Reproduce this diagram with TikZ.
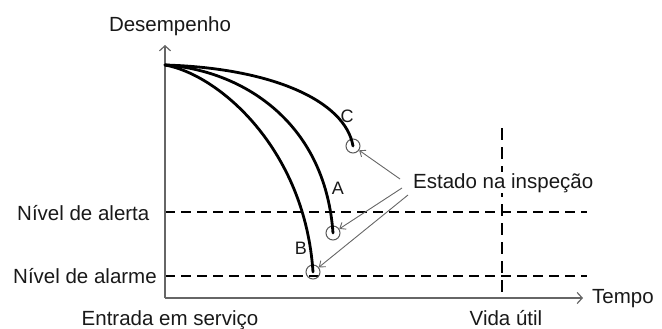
\documentclass[tikz,border=0pt]{standalone}
\usepackage{fontspec}
\setmainfont{Liberation Sans}
\usetikzlibrary{arrows.meta}
\begin{document}
\begin{tikzpicture}[x=1pt,y=-1pt,
  lbl/.style={font=\fontsize{20.5}{24}\selectfont, text=black!90, inner sep=0pt},
  curvelbl/.style={font=\fontsize{18}{20}\selectfont, text=black!90, inner sep=0pt},
  axisline/.style={draw=black!60, line width=1.3pt, -{Straight Barb[length=5pt,width=11pt,line width=1.2pt]}},
  curveline/.style={line width=2.8pt, line cap=round},
  levelline/.style={line width=2pt, dash pattern=on 10pt off 6pt},
  lifeline/.style={line width=2pt, dash pattern=on 12pt off 7pt},
  insp/.style={circle, draw=black!65, line width=1pt, minimum size=14pt, inner sep=0pt},
  ptr/.style={draw=black!60, line width=0.9pt, -{Straight Barb[length=5pt,width=8pt]}}
]
\useasboundingbox (0,0) rectangle (662,329);
% axes
\coordinate (O) at (165,298);
\coordinate (ytip) at (165,45);
\coordinate (xtip) at (583,298);
% levels
\coordinate (al1) at (165,212);
\coordinate (al2) at (587,212);
\coordinate (am1) at (165,276);
\coordinate (am2) at (587,276);
\coordinate (v1) at (502,128);
\coordinate (v2) at (502,298);
\draw[levelline] (al1) -- (al2);
\draw[levelline] (am1) -- (am2);
\draw[lifeline] (v1) -- (v2);
\draw[axisline] (O) -- (ytip);
\draw[axisline] (O) -- (xtip);
% curves
\coordinate (S) at (165,65);
\node[insp] (cB) at (313,272) {};
\node[insp] (cA) at (333,233) {};
\node[insp] (cC) at (353,146) {};
\draw[curveline] (S) .. controls (220,75) and (305,150) .. (cB.center);
\draw[curveline] (S) .. controls (240,70) and (325,120) .. (cA.center);
\draw[curveline] (S) .. controls (270,68) and (345,100) .. (cC.center);
% curve labels
\node[curvelbl] (lC) at (347,116) {C};
\node[curvelbl] (lA) at (338,188) {A};
\node[curvelbl] (lB) at (301,248) {B};
% texts
\node[lbl, anchor=base] (des) at (170,32) {Desempenho};
\node[lbl, anchor=base west] (alerta) at (17,220) {Nível de alerta};
\node[lbl, anchor=base west] (alarme) at (13,283) {Nível de alarme};
\node[lbl, anchor=base] (entrada) at (170,325) {Entrada em serviço};
\node[lbl, anchor=base] (vida) at (506,325) {Vida útil};
\node[lbl, anchor=base west] (tempo) at (592,303) {Tempo};
\node[lbl, anchor=base west, fill=white, inner sep=1pt] (estado) at (412,188) {Estado na inspeção};
% pointers
\coordinate (p1) at (400,179);
\coordinate (p2) at (402,188);
\coordinate (p3) at (408,195);
\draw[ptr] (p1) -- (cC);
\draw[ptr] (p2) -- (cA);
\draw[ptr] (p3) -- (cB);
\end{tikzpicture}
\end{document}
